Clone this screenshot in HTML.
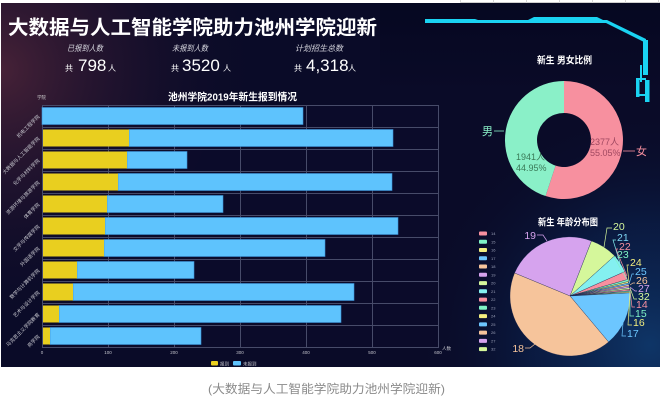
<!DOCTYPE html>
<html><head><meta charset="utf-8">
<style>
html,body{margin:0;padding:0;background:#fff;width:660px;height:405px;overflow:hidden}
svg{display:block}
text{font-family:"Liberation Sans","Noto Sans CJK SC",sans-serif}
</style></head>
<body>
<svg width="660" height="405" viewBox="0 0 660 405" xmlns="http://www.w3.org/2000/svg">
<defs>
<radialGradient id="gL" cx="0" cy="70" r="270" gradientUnits="userSpaceOnUse">
<stop offset="0" stop-color="#4a2338" stop-opacity="0.95"/>
<stop offset="0.45" stop-color="#2a1630" stop-opacity="0.6"/>
<stop offset="1" stop-color="#0a0b28" stop-opacity="0"/>
</radialGradient>
<radialGradient id="gR" cx="650" cy="345" r="240" gradientUnits="userSpaceOnUse">
<stop offset="0" stop-color="#0f3a6e" stop-opacity="0.9"/>
<stop offset="0.5" stop-color="#0b2654" stop-opacity="0.55"/>
<stop offset="1" stop-color="#0a0b28" stop-opacity="0"/>
</radialGradient>
<linearGradient id="gT" x1="0" y1="0" x2="0" y2="1">
<stop offset="0" stop-color="#03051c" stop-opacity="0.6"/>
<stop offset="1" stop-color="#03051c" stop-opacity="0"/>
</linearGradient>
</defs>

<!-- white surround -->
<rect x="0" y="0" width="660" height="405" fill="#ffffff"/>
<line x1="460" y1="2.5" x2="660" y2="2.5" stroke="#cfcfcf" stroke-width="1"/>
<g stroke="#d6d6d6" stroke-width="1">
<line x1="460.5" y1="0" x2="460.5" y2="3"/><line x1="493.5" y1="0" x2="493.5" y2="3"/><line x1="526.5" y1="0" x2="526.5" y2="3"/><line x1="559.5" y1="0" x2="559.5" y2="3"/><line x1="592.5" y1="0" x2="592.5" y2="3"/><line x1="625.5" y1="0" x2="625.5" y2="3"/><line x1="658.5" y1="0" x2="658.5" y2="3"/>
</g>

<!-- dashboard background -->
<rect x="1" y="3" width="659" height="364" fill="#0a0b28"/>
<rect x="1" y="3" width="659" height="364" fill="url(#gL)"/>
<rect x="1" y="3" width="659" height="364" fill="url(#gR)"/>
<rect x="380" y="3" width="280" height="90" fill="url(#gT)"/>

<!-- title -->
<text x="8" y="34" font-size="19.5" font-weight="bold" fill="#ffffff" textLength="369" lengthAdjust="spacingAndGlyphs">大数据与人工智能学院助力池州学院迎新</text>

<!-- stats -->
<g fill="#d8d8e0" font-size="8" font-style="italic">
<text x="67" y="51" textLength="36" lengthAdjust="spacingAndGlyphs">已报到人数</text>
<text x="172" y="51" textLength="36" lengthAdjust="spacingAndGlyphs">未报到人数</text>
<text x="295" y="51" textLength="48" lengthAdjust="spacingAndGlyphs">计划招生总数</text>
</g>
<g fill="#ffffff">
<text x="65" y="71" font-size="8">共</text>
<text x="78" y="71" font-size="17">798</text>
<text x="108" y="71" font-size="8">人</text>
<text x="171" y="71" font-size="8">共</text>
<text x="182" y="71" font-size="17">3520</text>
<text x="223" y="71" font-size="8">人</text>
<text x="294" y="71" font-size="8">共</text>
<text x="306" y="71" font-size="17">4,318</text>
<text x="348" y="71" font-size="8">人</text>
</g>

<!-- decoration -->
<g fill="#1ad3f2">
<polygon points="425,19 475,19 478,20 607,20 646,39 646,42 644,42 606,23 478,23 475,23 425,23"/>
<polygon points="528,20 534,17 597,17 603,20"/>
<rect x="643" y="40" width="5" height="35"/>
<rect x="640" y="65" width="2" height="17"/>
<rect x="636" y="78" width="3.5" height="19"/>
<rect x="636" y="78" width="10" height="2"/>
<rect x="645" y="80" width="4.5" height="22"/>
<rect x="639" y="94" width="8" height="2"/>
</g>

<!-- bar chart title -->
<text x="168" y="100.5" font-size="10" font-weight="bold" fill="#ffffff" textLength="129" lengthAdjust="spacingAndGlyphs">池州学院2019年新生报到情况</text>
<text x="37" y="99" font-size="4.5" fill="#cfcfcf">学院</text>

<!-- grid -->
<rect x="42" y="105" width="396" height="242" fill="#0c0c2c" opacity="0.6"/>
<g stroke="#474b69" stroke-width="1">
<line x1="42" y1="105.5" x2="438" y2="105.5"/>
<line x1="42" y1="127.5" x2="438" y2="127.5"/>
<line x1="42" y1="149.5" x2="438" y2="149.5"/>
<line x1="42" y1="171.5" x2="438" y2="171.5"/>
<line x1="42" y1="193.5" x2="438" y2="193.5"/>
<line x1="42" y1="215.5" x2="438" y2="215.5"/>
<line x1="42" y1="237.5" x2="438" y2="237.5"/>
<line x1="42" y1="259.5" x2="438" y2="259.5"/>
<line x1="42" y1="281.5" x2="438" y2="281.5"/>
<line x1="42" y1="303.5" x2="438" y2="303.5"/>
<line x1="42" y1="325.5" x2="438" y2="325.5"/>
<line x1="42" y1="347.5" x2="438" y2="347.5"/>
<line x1="42.5" y1="105" x2="42.5" y2="348"/>
<line x1="108.5" y1="105" x2="108.5" y2="348"/>
<line x1="174.5" y1="105" x2="174.5" y2="348"/>
<line x1="240.5" y1="105" x2="240.5" y2="348"/>
<line x1="306.5" y1="105" x2="306.5" y2="348"/>
<line x1="372.5" y1="105" x2="372.5" y2="348"/>
<line x1="438.5" y1="105" x2="438.5" y2="348"/>
</g>

<!-- bars -->
<g fill="#5ec3fd" stroke="#3b8fd6" stroke-width="0.6">
<rect x="42" y="107.5" width="261" height="17"/>
<rect x="129" y="129.5" width="264" height="17"/>
<rect x="127" y="151.5" width="60" height="17"/>
<rect x="118" y="173.5" width="274" height="17"/>
<rect x="107" y="195.5" width="116" height="17"/>
<rect x="105" y="217.5" width="293" height="17"/>
<rect x="104" y="239.5" width="221" height="17"/>
<rect x="77" y="261.5" width="117" height="17"/>
<rect x="73" y="283.5" width="281" height="17"/>
<rect x="59" y="305.5" width="282" height="17"/>
<rect x="50" y="327.5" width="151" height="17"/>
</g>
<g fill="#e9cf1f">
<rect x="43" y="129.5" width="86" height="17"/>
<rect x="43" y="151.5" width="84" height="17"/>
<rect x="43" y="173.5" width="75" height="17"/>
<rect x="43" y="195.5" width="64" height="17"/>
<rect x="43" y="217.5" width="62" height="17"/>
<rect x="43" y="239.5" width="61" height="17"/>
<rect x="43" y="261.5" width="34" height="17"/>
<rect x="43" y="283.5" width="30" height="17"/>
<rect x="43" y="305.5" width="16" height="17"/>
<rect x="43" y="327.5" width="7" height="17"/>
</g>

<!-- y labels -->
<g font-size="5" fill="#c4c4cc" text-anchor="end">
<text transform="translate(40,117) rotate(-45)">机电工程学院</text>
<text transform="translate(40,139) rotate(-45)">大数据与人工智能学院</text>
<text transform="translate(40,161) rotate(-45)">化学与材料学院</text>
<text transform="translate(40,183) rotate(-45)">资源环境与旅游学院</text>
<text transform="translate(40,205) rotate(-45)">体育学院</text>
<text transform="translate(40,227) rotate(-45)">文学与传媒学院</text>
<text transform="translate(40,249) rotate(-45)">外国语学院</text>
<text transform="translate(40,271) rotate(-45)">数学与计算机学院</text>
<text transform="translate(40,293) rotate(-45)">艺术与设计学院</text>
<text transform="translate(40,315) rotate(-45)">马克思主义学院教育</text>
<text transform="translate(40,337) rotate(-45)">商学院</text>
</g>

<!-- x labels -->
<g font-size="4.5" fill="#c4c4cc" text-anchor="middle">
<text x="42" y="354">0</text>
<text x="108" y="354">100</text>
<text x="174" y="354">200</text>
<text x="240" y="354">300</text>
<text x="306" y="354">400</text>
<text x="372" y="354">500</text>
<text x="438" y="354">600</text>
</g>
<text x="442" y="350" font-size="4.5" fill="#c4c4cc">人数</text>

<!-- bar legend -->
<rect x="211" y="361" width="7" height="4.5" rx="1" fill="#e9cf1f"/>
<text x="220" y="365.5" font-size="4.5" fill="#c4c4cc">报到</text>
<rect x="233" y="361" width="8" height="4.5" rx="1" fill="#5ec3fd"/>
<text x="243" y="365.5" font-size="4.5" fill="#c4c4cc">未报到</text>

<!-- donut -->
<text x="537" y="63.5" font-size="9.5" font-weight="bold" fill="#ffffff" textLength="55" lengthAdjust="spacingAndGlyphs">新生 男女比例</text>
<path d="M564,81 A59,59 0 1 1 545.59,196.06 L555.58,165.65 A27,27 0 1 0 564,113 Z" fill="#f7909f"/>
<path d="M545.59,196.06 A59,59 0 0 1 564,81 L564,113 A27,27 0 0 0 555.58,165.65 Z" fill="#8af0c8"/>
<text x="590" y="145" font-size="9" fill="#a04860">2377人</text>
<text x="590" y="156" font-size="9" fill="#a04860">55.05%</text>
<text x="516" y="160" font-size="9" fill="#3a7a58">1941人</text>
<text x="516" y="171" font-size="9" fill="#3a7a58">44.95%</text>
<text x="482" y="135" font-size="11" fill="#8af0c8">男</text>
<line x1="494" y1="131" x2="504" y2="131" stroke="#8af0c8" stroke-width="0.8"/>
<text x="636" y="155" font-size="11" fill="#f7909f">女</text>
<line x1="623" y1="151" x2="635" y2="151" stroke="#f7909f" stroke-width="0.8"/>

<!-- age pie -->
<text x="538" y="225.5" font-size="9.5" font-weight="bold" fill="#ffffff" textLength="60" lengthAdjust="spacingAndGlyphs">新生 年龄分布图</text>
<g stroke="#0b1a44" stroke-width="0.3">
<path d="M570,296 L514.57,273.04 A60,60 0 0 1 591.50,240.98 Z" fill="#d6a3ee"/>
<path d="M570,296 L591.50,240.98 A60,60 0 0 1 614.59,255.85 Z" fill="#d5f79b"/>
<path d="M570,296 L614.59,255.85 A60,60 0 0 1 624.81,271.60 Z" fill="#84f0f0"/>
<path d="M570,296 L624.81,271.60 A60,60 0 0 1 627.68,279.46 Z" fill="#f7909f"/>
<path d="M570,296 L627.68,279.46 A60,60 0 0 1 628.22,281.49 Z" fill="#7ff2c6"/>
<path d="M570,296 L628.22,281.49 A60,60 0 0 1 628.58,283.02 Z" fill="#f3ef7f"/>
<path d="M570,296 L628.58,283.02 A60,60 0 0 1 628.90,284.55 Z" fill="#6cc6ff"/>
<path d="M570,296 L628.90,284.55 A60,60 0 0 1 629.18,286.10 Z" fill="#f6c49b"/>
<path d="M570,296 L629.18,286.10 A60,60 0 0 1 629.42,287.65 Z" fill="#d6a3ee"/>
<path d="M570,296 L629.42,287.65 A60,60 0 0 1 629.62,289.21 Z" fill="#d5f79b"/>
<path d="M570,296 L629.62,289.21 A60,60 0 0 1 629.77,290.77 Z" fill="#f7909f"/>
<path d="M570,296 L629.77,290.77 A60,60 0 0 1 629.86,291.81 Z" fill="#7ff2c6"/>
<path d="M570,296 L629.86,291.81 A60,60 0 0 1 629.92,292.86 Z" fill="#f3ef7f"/>
<path d="M570,296 L629.92,292.86 A60,60 0 0 1 608.57,341.96 Z" fill="#6cc6ff"/>
<path d="M570,296 L608.57,341.96 A60,60 0 0 1 514.57,273.04 Z" fill="#f6c49b"/>
</g>

<!-- age labels & leader lines -->
<g fill="none" stroke-width="0.7">
<polyline points="604,247 607,228 612,228" stroke="#d5f79b"/>
<polyline points="620,263 613,240 616,240" stroke="#84f0f0"/>
<polyline points="627,276 616,249 618,249" stroke="#f7909f"/>
<polyline points="628,281 614,257 616,257" stroke="#7ff2c6"/>
<polyline points="629,282 627,265 629,265" stroke="#f3ef7f"/>
<polyline points="629,284 632,274 634,274" stroke="#6cc6ff"/>
<polyline points="630,285 633,283 635,283" stroke="#f6c49b"/>
<polyline points="630,287 635,291 637,291" stroke="#d6a3ee"/>
<polyline points="630,288 634,299 637,299" stroke="#d5f79b"/>
<polyline points="630,290 632,307 635,307" stroke="#f7909f"/>
<polyline points="630,291 630,316 634,316" stroke="#7ff2c6"/>
<polyline points="630,292 628,325 632,325" stroke="#f3ef7f"/>
<polyline points="623,323 622,336 626,336" stroke="#6cc6ff"/>
<polyline points="535,344 530,348 525,348" stroke="#f6c49b"/>
<polyline points="547,241 543,235 537,235" stroke="#d6a3ee"/>
</g>
<g font-size="10.5">
<text x="613" y="230" fill="#d5f79b">20</text>
<text x="617" y="241" fill="#7fd8f5">21</text>
<text x="619" y="250" fill="#f7909f">22</text>
<text x="617" y="258" fill="#7ff2c6">23</text>
<text x="630" y="266" fill="#f3ef7f">24</text>
<text x="635" y="275" fill="#6cc6ff">25</text>
<text x="636" y="284" fill="#f6c49b">26</text>
<text x="638" y="292" fill="#d6a3ee">27</text>
<text x="638" y="300" fill="#d5f79b">32</text>
<text x="636" y="308" fill="#f7909f">14</text>
<text x="635" y="317" fill="#7ff2c6">15</text>
<text x="633" y="326" fill="#f3ef7f">16</text>
<text x="627" y="337" fill="#6cc6ff">17</text>
<text x="524" y="352" fill="#f6c49b" text-anchor="end">18</text>
<text x="536" y="239" fill="#d6a3ee" text-anchor="end">19</text>
</g>

<!-- age legend -->
<g>
<rect x="479" y="231.5" width="8" height="4" rx="1" fill="#f7909f"/>
<rect x="479" y="239.8" width="8" height="4" rx="1" fill="#7ff2c6"/>
<rect x="479" y="248.0" width="8" height="4" rx="1" fill="#f3ef7f"/>
<rect x="479" y="256.3" width="8" height="4" rx="1" fill="#6cc6ff"/>
<rect x="479" y="264.5" width="8" height="4" rx="1" fill="#f6c49b"/>
<rect x="479" y="272.8" width="8" height="4" rx="1" fill="#d6a3ee"/>
<rect x="479" y="281.1" width="8" height="4" rx="1" fill="#d5f79b"/>
<rect x="479" y="289.3" width="8" height="4" rx="1" fill="#84f0f0"/>
<rect x="479" y="297.6" width="8" height="4" rx="1" fill="#f7909f"/>
<rect x="479" y="305.8" width="8" height="4" rx="1" fill="#7ff2c6"/>
<rect x="479" y="314.1" width="8" height="4" rx="1" fill="#f3ef7f"/>
<rect x="479" y="322.4" width="8" height="4" rx="1" fill="#6cc6ff"/>
<rect x="479" y="330.6" width="8" height="4" rx="1" fill="#f6c49b"/>
<rect x="479" y="338.9" width="8" height="4" rx="1" fill="#d6a3ee"/>
<rect x="479" y="347.1" width="8" height="4" rx="1" fill="#d5f79b"/>
</g>
<g font-size="4" fill="#9aa0b8">
<text x="491" y="235">14</text><text x="491" y="243.3">15</text><text x="491" y="251.5">16</text>
<text x="491" y="259.8">17</text><text x="491" y="268">18</text><text x="491" y="276.3">19</text>
<text x="491" y="284.6">20</text><text x="491" y="292.8">21</text><text x="491" y="301.1">22</text>
<text x="491" y="309.3">23</text><text x="491" y="317.6">24</text><text x="491" y="325.9">25</text>
<text x="491" y="334.1">26</text><text x="491" y="342.4">27</text><text x="491" y="350.6">32</text>
</g>

<!-- caption -->
<text x="208" y="393" font-size="12" fill="#8a8a8a" textLength="237" lengthAdjust="spacingAndGlyphs">(大数据与人工智能学院助力池州学院迎新)</text>
</svg>
</body></html>
